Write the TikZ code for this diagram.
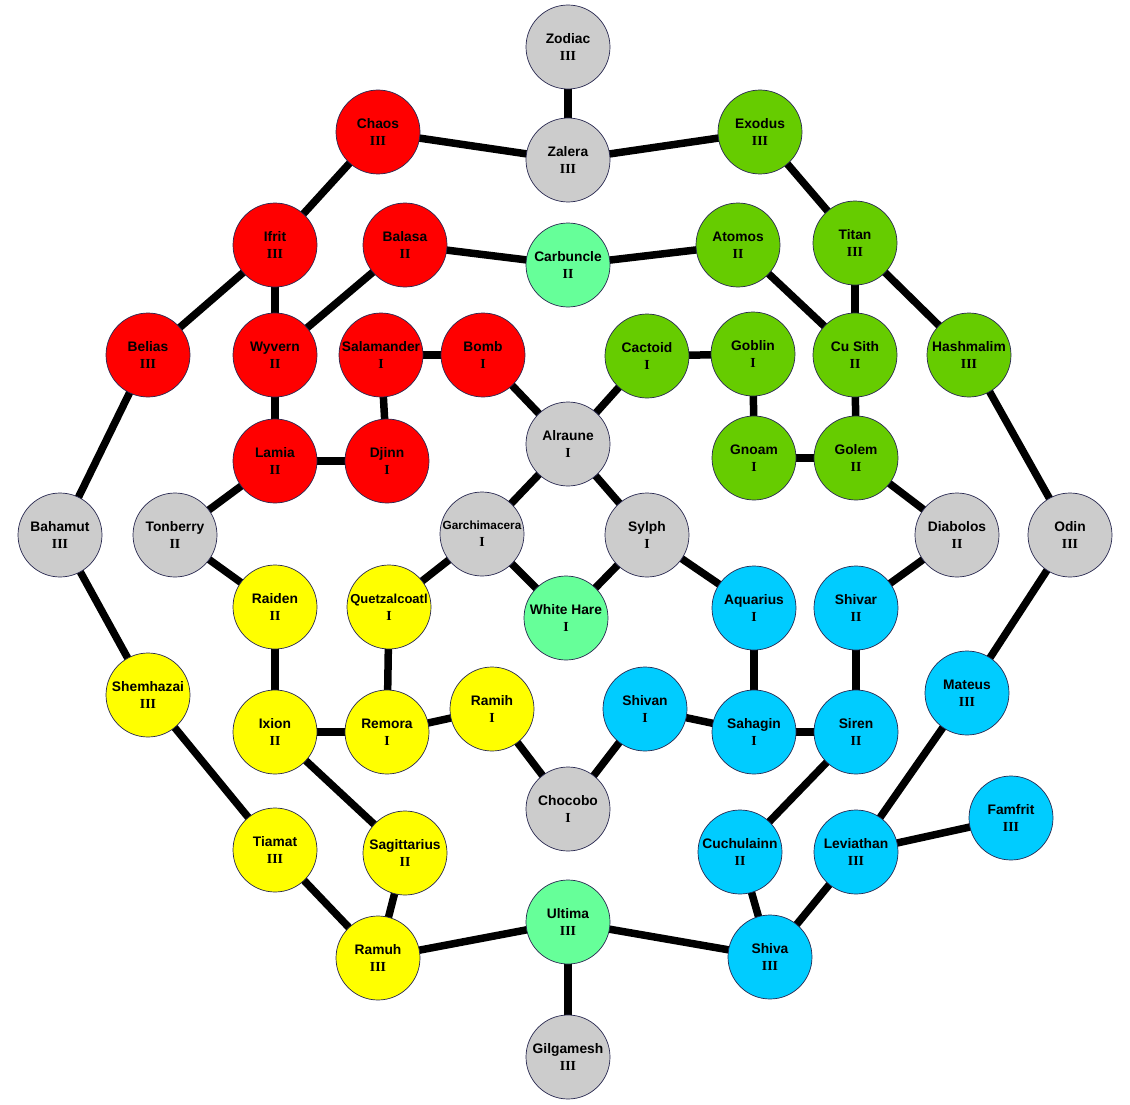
\documentclass[tikz,border=0pt]{standalone}
\usepackage{fontspec}
\setmainfont{Liberation Serif}
\setsansfont{Liberation Sans}
\definecolor{FireColor}{RGB}{255,0,0}
\definecolor{EarthColor}{RGB}{102,204,0}
\definecolor{MintColor}{RGB}{102,255,153}
\definecolor{AshColor}{RGB}{204,204,204}
\definecolor{BoltColor}{RGB}{255,255,0}
\definecolor{WaterColor}{RGB}{0,204,255}
\definecolor{RimColor}{RGB}{40,40,80}
\usepackage{tikz}
\usetikzlibrary{backgrounds}
\newcommand{\aeon}[2]{\textsf{\textbf{#1}}\\\textbf{#2}}

\begin{document}
\begin{tikzpicture}[x=1pt, y=-1pt,
    esper/.style={circle, draw=RimColor, line width=0.7pt, minimum size=84pt, inner sep=0pt, align=center, font=\fontsize{13.8}{17}\selectfont},
    fire/.style={esper, fill=FireColor},
    earth/.style={esper, fill=EarthColor},
    mint/.style={esper, fill=MintColor},
    ash/.style={esper, fill=AshColor},
    bolt/.style={esper, fill=BoltColor},
    water/.style={esper, fill=WaterColor},
    link/.style={line width=7.5pt}]
          \useasboundingbox (0,0) rectangle (1130,1105);

          \node[ash] (zodiac) at (568,47) {\aeon{Zodiac}{III}};
          \node[ash] (zalera) at (568,160) {\aeon{Zalera}{III}};
          \node[fire] (chaos) at (378,132) {\aeon{Chaos}{III}};
          \node[earth] (exodus) at (760,132) {\aeon{Exodus}{III}};
          \node[fire] (ifrit) at (275,245) {\aeon{Ifrit}{III}};
          \node[fire] (balasa) at (405,245) {\aeon{Balasa}{II}};
          \node[mint] (carbuncle) at (568,265) {\aeon{Carbuncle}{II}};
          \node[earth] (atomos) at (738,245) {\aeon{Atomos}{II}};
          \node[earth] (titan) at (855,243) {\aeon{Titan}{III}};
          \node[fire] (belias) at (148,355) {\aeon{Belias}{III}};
          \node[fire] (wyvern) at (275,355) {\aeon{Wyvern}{II}};
          \node[fire] (salamander) at (381,355) {\aeon{Salamander}{I}};
          \node[fire] (bomb) at (483,355) {\aeon{Bomb}{I}};
          \node[earth] (cactoid) at (647,356) {\aeon{Cactoid}{I}};
          \node[earth] (goblin) at (753,354) {\aeon{Goblin}{I}};
          \node[earth] (cusith) at (855,355) {\aeon{Cu Sith}{II}};
          \node[earth] (hashmalim) at (969,355) {\aeon{Hashmalim}{III}};
          \node[ash] (alraune) at (568,444) {\aeon{Alraune}{I}};
          \node[fire] (lamia) at (275,461) {\aeon{Lamia}{II}};
          \node[fire] (djinn) at (387,461) {\aeon{Djinn}{I}};
          \node[earth] (gnoam) at (754,458) {\aeon{Gnoam}{I}};
          \node[earth] (golem) at (856,458) {\aeon{Golem}{II}};
          \node[ash] (bahamut) at (60,535) {\aeon{Bahamut}{III}};
          \node[ash] (tonberry) at (175,535) {\aeon{Tonberry}{II}};
          \node[ash] (garchimacera) at (482,534) {\aeon{\fontsize{11.8}{17}\selectfont Garchimacera}{I}};
          \node[ash] (sylph) at (647,535) {\aeon{Sylph}{I}};
          \node[ash] (diabolos) at (957,535) {\aeon{Diabolos}{II}};
          \node[ash] (odin) at (1070,535) {\aeon{Odin}{III}};
          \node[bolt] (raiden) at (275,607) {\aeon{Raiden}{II}};
          \node[bolt] (quetzalcoatl) at (389,607) {\aeon{\fontsize{13}{17}\selectfont Quetzalcoatl}{I}};
          \node[mint] (whitehare) at (566,618) {\aeon{White Hare}{I}};
          \node[water] (aquarius) at (754,608) {\aeon{Aquarius}{I}};
          \node[water] (shivar) at (856,608) {\aeon{Shivar}{II}};
          \node[bolt] (shemhazai) at (148,695) {\aeon{Shemhazai}{III}};
          \node[bolt] (ixion) at (275,732) {\aeon{Ixion}{II}};
          \node[bolt] (remora) at (387,732) {\aeon{Remora}{I}};
          \node[bolt] (ramih) at (492,709) {\aeon{Ramih}{I}};
          \node[water] (shivan) at (645,709) {\aeon{Shivan}{I}};
          \node[water] (sahagin) at (754,732) {\aeon{Sahagin}{I}};
          \node[water] (siren) at (856,732) {\aeon{Siren}{II}};
          \node[water] (mateus) at (967,693) {\aeon{Mateus}{III}};
          \node[ash] (chocobo) at (568,809) {\aeon{Chocobo}{I}};
          \node[bolt] (tiamat) at (275,850) {\aeon{Tiamat}{III}};
          \node[bolt] (sagittarius) at (405,853) {\aeon{Sagittarius}{II}};
          \node[water] (cuchulainn) at (740,852) {\aeon{Cuchulainn}{II}};
          \node[water] (leviathan) at (856,852) {\aeon{Leviathan}{III}};
          \node[water] (famfrit) at (1011,818) {\aeon{Famfrit}{III}};
          \node[mint] (ultima) at (568,922) {\aeon{Ultima}{III}};
          \node[bolt] (ramuh) at (378,958) {\aeon{Ramuh}{III}};
          \node[water] (shiva) at (770,957) {\aeon{Shiva}{III}};
          \node[ash] (gilgamesh) at (568,1057) {\aeon{Gilgamesh}{III}};

          \begin{scope}[on background layer]
          \draw[link] (zodiac.center) -- (zalera.center);
          \draw[link] (zalera.center) -- (chaos.center);
          \draw[link] (zalera.center) -- (exodus.center);
          \draw[link] (chaos.center) -- (ifrit.center);
          \draw[link] (exodus.center) -- (titan.center);
          \draw[link] (ifrit.center) -- (belias.center);
          \draw[link] (ifrit.center) -- (wyvern.center);
          \draw[link] (balasa.center) -- (wyvern.center);
          \draw[link] (balasa.center) -- (carbuncle.center);
          \draw[link] (carbuncle.center) -- (atomos.center);
          \draw[link] (atomos.center) -- (cusith.center);
          \draw[link] (titan.center) -- (cusith.center);
          \draw[link] (titan.center) -- (hashmalim.center);
          \draw[link] (salamander.center) -- (bomb.center);
          \draw[link] (salamander.center) -- (djinn.center);
          \draw[link] (wyvern.center) -- (lamia.center);
          \draw[link] (lamia.center) -- (djinn.center);
          \draw[link] (bomb.center) -- (alraune.center);
          \draw[link] (cactoid.center) -- (alraune.center);
          \draw[link] (cactoid.center) -- (goblin.center);
          \draw[link] (goblin.center) -- (gnoam.center);
          \draw[link] (gnoam.center) -- (golem.center);
          \draw[link] (cusith.center) -- (golem.center);
          \draw[link] (golem.center) -- (diabolos.center);
          \draw[link] (hashmalim.center) -- (odin.center);
          \draw[link] (belias.center) -- (bahamut.center);
          \draw[link] (lamia.center) -- (tonberry.center);
          \draw[link] (alraune.center) -- (garchimacera.center);
          \draw[link] (alraune.center) -- (sylph.center);
          \draw[link] (garchimacera.center) -- (whitehare.center);
          \draw[link] (sylph.center) -- (whitehare.center);
          \draw[link] (garchimacera.center) -- (quetzalcoatl.center);
          \draw[link] (sylph.center) -- (aquarius.center);
          \draw[link] (tonberry.center) -- (raiden.center);
          \draw[link] (diabolos.center) -- (shivar.center);
          \draw[link] (odin.center) -- (mateus.center);
          \draw[link] (bahamut.center) -- (shemhazai.center);
          \draw[link] (raiden.center) -- (ixion.center);
          \draw[link] (quetzalcoatl.center) -- (remora.center);
          \draw[link] (ixion.center) -- (remora.center);
          \draw[link] (remora.center) -- (ramih.center);
          \draw[link] (ramih.center) -- (chocobo.center);
          \draw[link] (shivan.center) -- (chocobo.center);
          \draw[link] (shivan.center) -- (sahagin.center);
          \draw[link] (aquarius.center) -- (sahagin.center);
          \draw[link] (sahagin.center) -- (siren.center);
          \draw[link] (shivar.center) -- (siren.center);
          \draw[link] (siren.center) -- (cuchulainn.center);
          \draw[link] (mateus.center) -- (leviathan.center);
          \draw[link] (leviathan.center) -- (famfrit.center);
          \draw[link] (leviathan.center) -- (shiva.center);
          \draw[link] (cuchulainn.center) -- (shiva.center);
          \draw[link] (ixion.center) -- (sagittarius.center);
          \draw[link] (shemhazai.center) -- (tiamat.center);
          \draw[link] (tiamat.center) -- (ramuh.center);
          \draw[link] (sagittarius.center) -- (ramuh.center);
          \draw[link] (ramuh.center) -- (ultima.center);
          \draw[link] (ultima.center) -- (shiva.center);
          \draw[link] (ultima.center) -- (gilgamesh.center);
          \end{scope}
        \end{tikzpicture}
\end{document}
